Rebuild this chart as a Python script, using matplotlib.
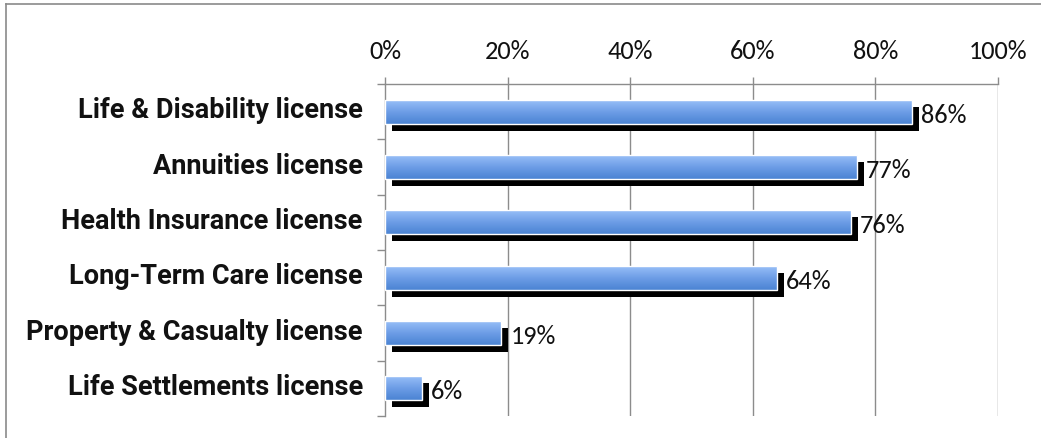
import numpy as np
import matplotlib
matplotlib.use("Agg")
import matplotlib.pyplot as plt
from matplotlib.patches import Rectangle
from matplotlib.colors import LinearSegmentedColormap
import matplotlib.transforms as mtransforms

categories = [
    "Life & Disability license",
    "Annuities license",
    "Health Insurance license",
    "Long-Term Care license",
    "Property & Casualty license",
    "Life Settlements license",
]
values = [86, 77, 76, 64, 19, 6]
xticks = [0, 20, 40, 60, 80, 100]
xtick_labels = ["0%", "20%", "40%", "60%", "80%", "100%"]

W, H, DPI = 1041, 438, 100
fig = plt.figure(figsize=(W / DPI, H / DPI), dpi=DPI)
fig.patch.set_facecolor("white")

# outer chart border (open to the right and bottom)
fig.add_artist(plt.Line2D([6 / W, 6 / W], [0, 1 - 4 / H], transform=fig.transFigure,
                          color="#8a8a8a", lw=1.2))
fig.add_artist(plt.Line2D([6 / W, 1], [1 - 4 / H, 1 - 4 / H], transform=fig.transFigure,
                          color="#8a8a8a", lw=1.2))

left, right, top, bottom = 385, 998, 84, 416
ax = fig.add_axes([left / W, 1 - bottom / H, (right - left) / W, (bottom - top) / H])
ax.set_xlim(0, 100)
n = len(categories)
ax.set_ylim(n - 0.5, -0.5)

grid_col = "#8c8c8c"
for s in ["right", "bottom"]:
    ax.spines[s].set_visible(False)
for s in ["left", "top"]:
    ax.spines[s].set_color(grid_col)
    ax.spines[s].set_linewidth(1.0)

ax.xaxis.tick_top()
ax.set_xticks(xticks)
ax.set_xticklabels(xtick_labels, fontfamily="Carlito", fontsize=19, color="#111111")
ax.tick_params(axis="x", top=True, direction="out", length=5, width=1.0, color=grid_col, pad=10)
for x in xticks[1:]:
    ax.axvline(x, color=grid_col, lw=1.0, zorder=0)

ax.set_yticks(range(n))
ax.set_yticklabels(categories, fontfamily="Roboto", fontweight="bold",
                   fontsize=19.5, color="#111111")
ax.tick_params(axis="y", which="major", length=0, pad=16)
lift = mtransforms.ScaledTranslation(0, 4 / DPI, fig.dpi_scale_trans)
for lab in ax.get_yticklabels():
    lab.set_transform(lab.get_transform() + lift)
ax.set_yticks(np.arange(-0.5, n, 1.0), minor=True)
ax.tick_params(axis="y", which="minor", direction="out", length=5.5, width=1.0, color=grid_col)

cmap = LinearSegmentedColormap.from_list("barfade", ["#98bff8", "#6d9de6", "#4a83d3"])
grad = np.linspace(0, 1, 256).reshape(-1, 1)
bar_h = 0.43
shadow = mtransforms.offset_copy(ax.transData, fig=fig, x=7, y=-7, units="dots")
lab_t = mtransforms.offset_copy(ax.transData, fig=fig, x=9, y=-3.5, units="dots")

for i, v in enumerate(values):
    y0 = i - bar_h / 2
    ax.add_patch(Rectangle((0, y0), v, bar_h, transform=shadow, facecolor="black",
                           edgecolor="none", zorder=2, clip_on=False))
    ax.imshow(grad, cmap=cmap, aspect="auto", extent=(0, v, i + bar_h / 2, y0),
              origin="upper", zorder=3, interpolation="bilinear")
    ax.add_patch(Rectangle((0, y0), v, bar_h, facecolor="none", edgecolor="white",
                           lw=1.0, zorder=4))
    ax.text(v, i, f"{v}%", transform=lab_t, ha="left", va="center",
            fontfamily="Carlito", fontsize=19, color="#111111", zorder=5)

ax.set_xlim(0, 100)
ax.set_ylim(n - 0.5, -0.5)
fig.savefig("out.png", dpi=DPI, facecolor="white")
